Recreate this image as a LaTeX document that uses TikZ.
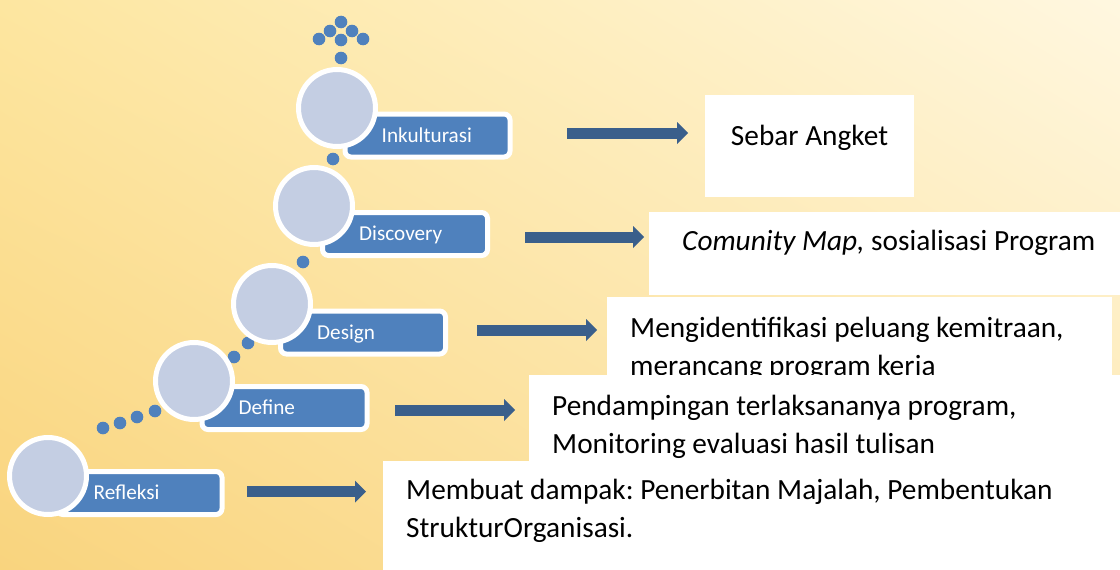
\documentclass[tikz,border=0pt]{standalone}
\usepackage{fontspec}
\setmainfont{Carlito}
\usetikzlibrary{arrows.meta,shadings}
\definecolor{tagblue}{HTML}{4F81BD}
\definecolor{circgray}{HTML}{C4CEE3}
\definecolor{arrowblue}{HTML}{3A5F8B}
\definecolor{bgtl}{HTML}{FDE6A0}
\definecolor{bgtr}{HTML}{FFF7E0}
\definecolor{bgbl}{HTML}{F9D47E}
\definecolor{bgbr}{HTML}{FDE8B0}
\newcommand\twolns[2]{\vtop{\hbox{#1}\hbox{#2}}}
\frenchspacing
\begin{document}
\begin{tikzpicture}[x=1pt,y=-1pt,
  dot/.style={circle,fill=tagblue,inner sep=0pt,minimum size=12.6pt},
  bigcirc/.style={circle,fill=circgray,draw=white,line width=5pt,minimum size=77pt,inner sep=0pt},
  tag/.style={rectangle,rounded corners=6pt,fill=tagblue,draw=white,line width=5pt,minimum width=165pt,minimum height=43pt,inner sep=0pt},
  tagtext/.style={anchor=base west,text=white,font=\fontsize{21.2}{25}\selectfont,inner sep=0pt},
  infobox/.style={fill=white},
  infotext/.style={font=\fontsize{29.3}{38}\selectfont,inner sep=0pt,text=black},
  blockarrow/.style={draw=arrowblue,line width=11pt,-{Triangle[length=11pt,width=22pt,line width=0pt]}}
]
\useasboundingbox (0,0) rectangle (1120,570);
\shade[upper left=bgtl,upper right=bgtr,lower left=bgbl,lower right=bgbr] (0,0) rectangle (1120,570);

% dots
\node[dot] (d1) at (341,22) {};
\node[dot] (d2) at (330,31) {};
\node[dot] (d3) at (352,31) {};
\node[dot] (d4) at (319,39) {};
\node[dot] (d5) at (341,40) {};
\node[dot] (d6) at (363,39) {};
\node[dot] (d7) at (341,58) {};
\node[dot] (d8) at (333,159) {};
\node[dot] (d9) at (303,262) {};
\node[dot] (d10) at (248,343) {};
\node[dot] (d11) at (234,357) {};
\node[dot] (d12) at (155,411) {};
\node[dot] (d13) at (137,417) {};
\node[dot] (d14) at (120,423) {};
\node[dot] (d15) at (103,428) {};

% tags
\node[tag] (r1) at (427.5,135.5) {};
\node[tag] (r2) at (405,234) {};
\node[tag] (r3) at (363,332.5) {};
\node[tag] (r4) at (284.5,408) {};
\node[tag] (r5) at (139.5,493) {};

% circles
\node[bigcirc] (c1) at (337,108) {};
\node[bigcirc] (c2) at (314,206) {};
\node[bigcirc] (c3) at (272,304) {};
\node[bigcirc] (c4) at (194,381) {};
\node[bigcirc] (c5) at (48,476) {};

% tag texts
\node[tagtext] (l1) at ([xshift=39pt,yshift=-6.8pt]r1.west) {Inkulturasi};
\node[tagtext] (l2) at ([xshift=39pt,yshift=-6.8pt]r2.west) {Discovery};
\node[tagtext] (l3) at ([xshift=39pt,yshift=-6.8pt]r3.west) {Design};
\node[tagtext] (l4) at ([xshift=39pt,yshift=-6.8pt]r4.west) {Define};
\node[tagtext] (l5) at ([xshift=39pt,yshift=-6.8pt]r5.west) {Refleksi};

% arrows
\coordinate (a1s) at (567,133);   \coordinate (a1e) at (688,133);
\coordinate (a2s) at (525,237);   \coordinate (a2e) at (644,237);
\coordinate (a3s) at (477,330);   \coordinate (a3e) at (597,330);
\coordinate (a4s) at (395,410);   \coordinate (a4e) at (515,410);
\coordinate (a5s) at (247,491.5); \coordinate (a5e) at (366,491.5);
\draw[blockarrow] (a1s) -- (a1e);
\draw[blockarrow] (a2s) -- (a2e);
\draw[blockarrow] (a3s) -- (a3e);
\draw[blockarrow] (a4s) -- (a4e);
\draw[blockarrow] (a5s) -- (a5e);

% info boxes
\fill[infobox] (705,95) rectangle (914,197);
\node[infotext,anchor=base] (tA) at (809.5,145) {Sebar Angket};
\fill[infobox] (649,212) rectangle (1120,295);
\node[infotext,anchor=base west] (tB) at (682,250) {{\itshape Comunity Map,} sosialisasi Program};
\fill[infobox] (607,297) rectangle (1112,400);
\node[infotext,anchor=base west] (tC) at (630,337) {\twolns{Mengidentifikasi peluang kemitraan,}{merancang program kerja}};
\fill[infobox] (529,375) rectangle (1120,470);
\node[infotext,anchor=base west] (tD) at (552,415) {\twolns{Pendampingan terlaksananya program,}{Monitoring evaluasi hasil tulisan}};
\fill[infobox] (383,461) rectangle (1120,570);
\node[infotext,anchor=base west] (tE) at (406,499) {\twolns{Membuat dampak: Penerbitan Majalah, Pembentukan}{StrukturOrganisasi.}};
\end{tikzpicture}
\end{document}
